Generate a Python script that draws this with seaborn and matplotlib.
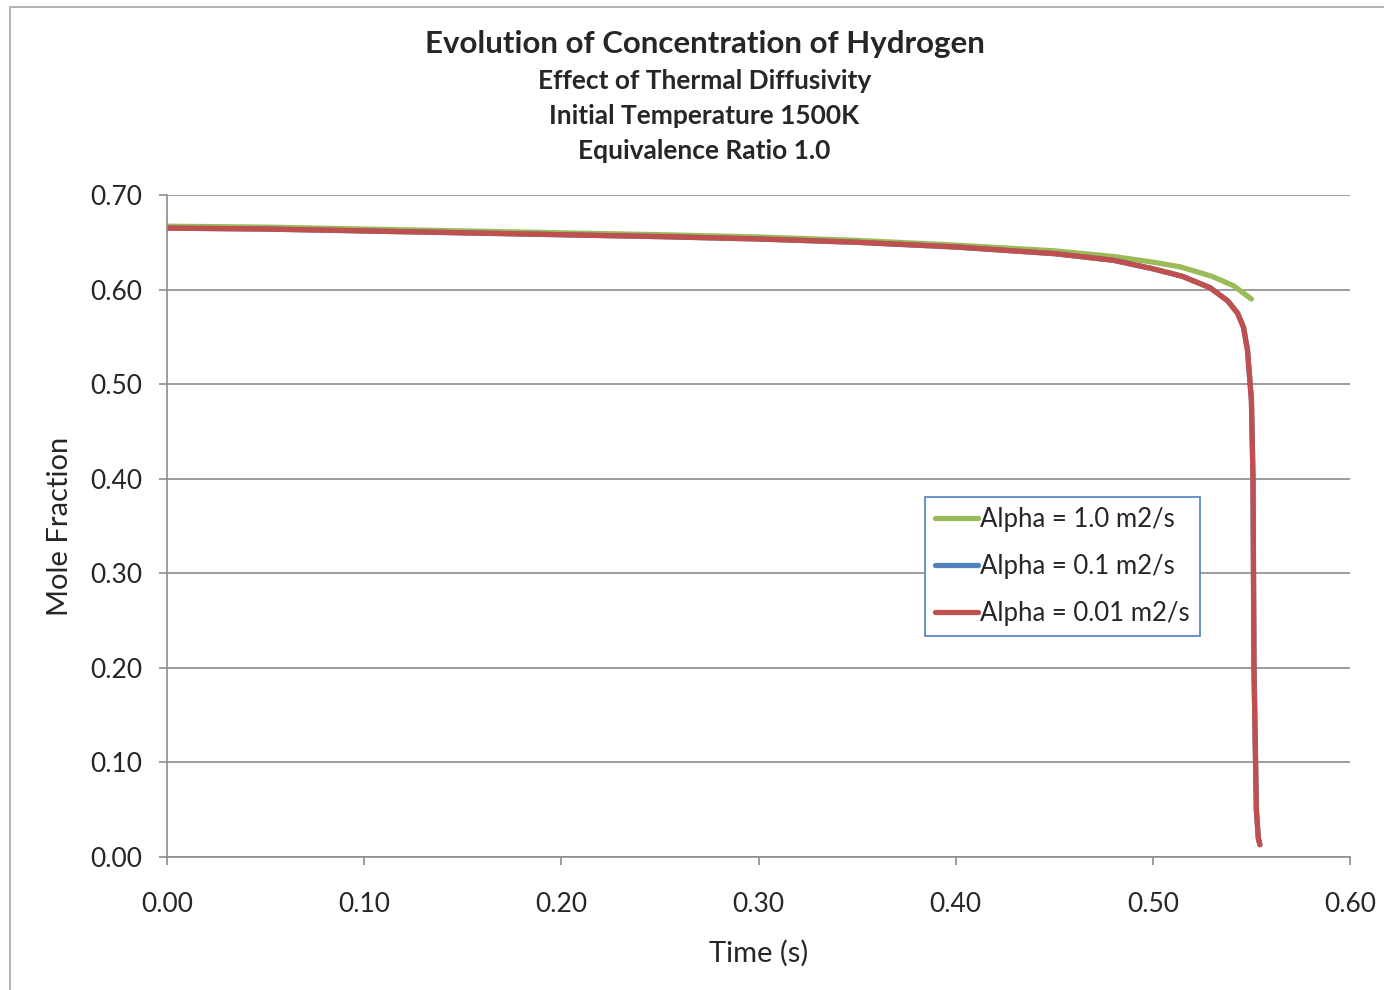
import pandas as pd
import matplotlib
import matplotlib.pyplot as plt
import seaborn as sns
from matplotlib.patches import Rectangle

sns.set_style("white")
matplotlib.rcParams['font.family'] = ['Lato', 'DejaVu Sans']

# ============================================================
# data
# ============================================================
series_names = ['Alpha = 1.0 m2/s', 'Alpha = 0.1 m2/s', 'Alpha = 0.01 m2/s']

time_a1 = [0.0, 0.05, 0.10, 0.15, 0.20, 0.25, 0.30, 0.35, 0.40, 0.45, 0.48,
           0.50, 0.514, 0.53, 0.541, 0.550]
h2_a1 = [0.667, 0.666, 0.664, 0.662, 0.660, 0.658, 0.6556, 0.652, 0.647, 0.641,
         0.635, 0.629, 0.624, 0.614, 0.604, 0.590]

time_a01 = [0.0, 0.05, 0.10, 0.15, 0.20, 0.25, 0.30, 0.35, 0.40, 0.45, 0.48,
            0.50, 0.515, 0.529, 0.538, 0.543, 0.546, 0.548, 0.550, 0.5508,
            0.5513, 0.5525, 0.5535, 0.5543]
h2_a01 = [0.665, 0.664, 0.662, 0.660, 0.658, 0.656, 0.6535, 0.650, 0.645, 0.638,
          0.631, 0.622, 0.614, 0.602, 0.588, 0.575, 0.560, 0.536, 0.483, 0.400,
          0.200, 0.050, 0.020, 0.013]

time_a001 = [0.0, 0.05, 0.10, 0.15, 0.20, 0.25, 0.30, 0.35, 0.40, 0.45, 0.48,
             0.50, 0.515, 0.529, 0.538, 0.543, 0.546, 0.548, 0.550, 0.5508,
             0.5513, 0.5525, 0.5535, 0.5543]
h2_a001 = [0.665, 0.664, 0.662, 0.660, 0.658, 0.656, 0.6535, 0.650, 0.645, 0.638,
           0.631, 0.622, 0.614, 0.602, 0.588, 0.575, 0.560, 0.536, 0.483, 0.400,
           0.200, 0.050, 0.020, 0.013]

colors = {series_names[0]: '#9bbb59',
          series_names[1]: '#4f81bd',
          series_names[2]: '#c0504d'}

df = pd.concat([
    pd.DataFrame({'time': time_a1, 'frac': h2_a1, 'series': series_names[0]}),
    pd.DataFrame({'time': time_a01, 'frac': h2_a01, 'series': series_names[1]}),
    pd.DataFrame({'time': time_a001, 'frac': h2_a001, 'series': series_names[2]}),
], ignore_index=True)

# ============================================================
# plot
# ============================================================
fig = plt.figure(figsize=(13.84, 9.9), dpi=100)
ax = fig.add_axes([167 / 1384, 1 - 857 / 990, (1350 - 167) / 1384, (857 - 195) / 990])

# outer chart border (Excel chart area)
fig.patches.append(Rectangle((10 / 1384, -0.05), 1.2, 1 - 7 / 990 + 0.05,
                             transform=fig.transFigure, fill=False,
                             edgecolor='#a6a6a6', linewidth=1.2))

sns.lineplot(data=df, x='time', y='frac', hue='series', hue_order=series_names,
             palette=colors, linewidth=3.8, sort=False, estimator=None, ax=ax)

ax.set_xlim(0, 0.6)
ax.set_ylim(0, 0.7)
ax.set_xticks([i / 10 for i in range(7)])
ax.set_yticks([i / 10 for i in range(8)])
ax.xaxis.set_major_formatter(matplotlib.ticker.FormatStrFormatter('%.2f'))
ax.yaxis.set_major_formatter(matplotlib.ticker.FormatStrFormatter('%.2f'))
ax.grid(axis='y', color='#8c8c8c', linewidth=1.2)
ax.grid(axis='x', visible=False)
ax.set_axisbelow(True)
for s in ['top', 'right']:
    ax.spines[s].set_visible(False)
for s in ['left', 'bottom']:
    ax.spines[s].set_color('#8c8c8c')
    ax.spines[s].set_linewidth(1.2)
ax.tick_params(axis='both', direction='out', length=6, width=1.2, color='#8c8c8c',
               labelsize=19, bottom=True, left=True)
ax.tick_params(axis='x', pad=19)
ax.tick_params(axis='y', pad=12)

ax.set_xlabel('Time (s)', fontsize=21, labelpad=17)
ax.set_ylabel('Mole Fraction', fontsize=21, labelpad=12)

fig.text(0.509, 1 - 44 / 990, 'Evolution of Concentration of Hydrogen',
         ha='center', va='center', fontsize=22.5, fontweight='bold')
for txt, ypx in [('Effect of Thermal Diffusivity', 81),
                 ('Initial Temperature 1500K', 116),
                 ('Equivalence Ratio 1.0', 151)]:
    fig.text(0.509, 1 - ypx / 990, txt, ha='center', va='center',
             fontsize=19, fontweight='bold')

handles, labels = ax.get_legend_handles_labels()
leg = ax.legend(handles, labels, loc='upper left',
                bbox_to_anchor=((925 - 167) / 1183, (857 - 497) / 662),
                fontsize=18.5, frameon=True, fancybox=False, framealpha=1,
                handlelength=1.65, handletextpad=0.1, labelspacing=0.85,
                borderpad=0.4, borderaxespad=0)
leg.get_frame().set_edgecolor('#4f81bd')
leg.get_frame().set_linewidth(1.2)

plt.savefig('out.png', dpi=100)
